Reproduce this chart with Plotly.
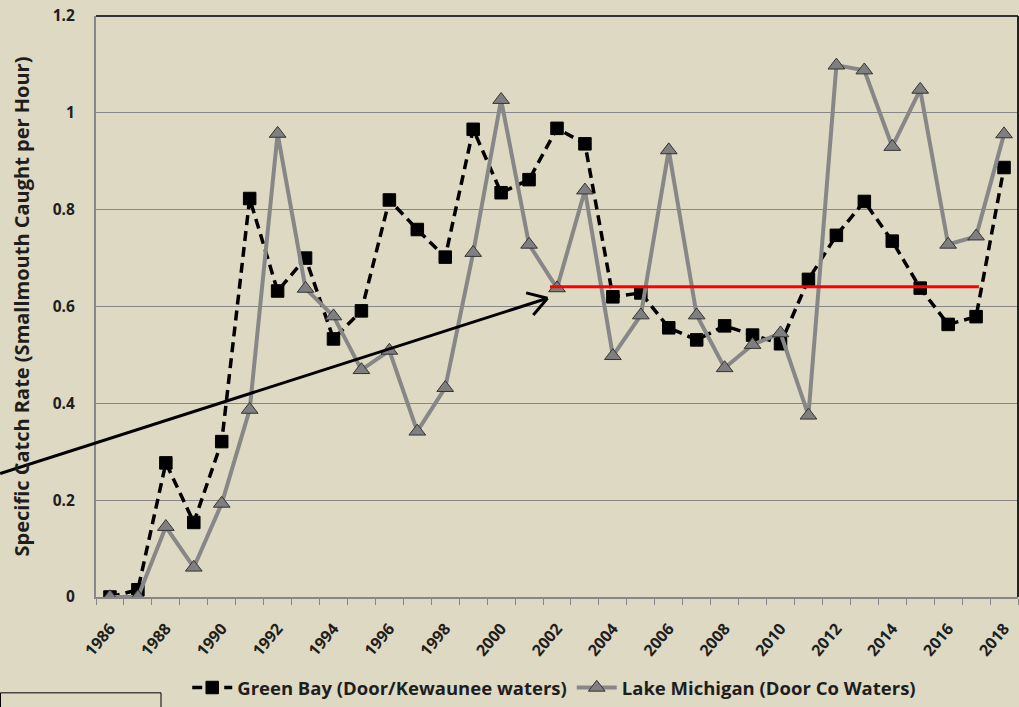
import math
import plotly.graph_objects as go

# ---------------- data ----------------
years = list(range(1986, 2019))
green_bay = [0.0, 0.015, 0.277, 0.154, 0.321, 0.823, 0.632, 0.700, 0.533, 0.591,
             0.820, 0.759, 0.702, 0.966, 0.835, 0.862, 0.968, 0.936, 0.620, 0.628,
             0.556, 0.531, 0.560, 0.541, 0.523, 0.656, 0.747, 0.817, 0.735, 0.638,
             0.563, 0.579, 0.887]
lake_michigan = [0.0, 0.0, 0.145, 0.061, 0.193, 0.387, 0.957, 0.637, 0.580, 0.469,
                 0.509, 0.342, 0.432, 0.711, 1.027, 0.728, 0.638, 0.840, 0.498, 0.582,
                 0.923, 0.582, 0.473, 0.521, 0.545, 0.375, 1.098, 1.088, 0.930, 1.048,
                 0.728, 0.745, 0.956]
label_years = list(range(1986, 2019, 2))
y_ticks = [0, 0.2, 0.4, 0.6, 0.8, 1.0, 1.2]
y_ticktext = ["0", "0.2", "0.4", "0.6", "0.8", "1", "1.2"]

series_names = ["Green Bay (Door/Kewaunee waters)", "Lake Michigan (Door Co Waters)"]
y_title = "Specific Catch Rate (Smallmouth Caught per Hour)"

# reference (red) level and arrow annotation, in data units
ref_level = 0.641
ref_start, ref_end = 2001.75, 2017.1
arrow_tail = (1982.07, 0.255)
arrow_head = (2001.66, 0.617)

# ---------------- layout constants ----------------
W, H = 1019, 707
ML, MR, MT, MB = 96, 1, 16, 109
X_RANGE = [1985.5, 2018.5]
Y_RANGE = [0, 1.2]
BG = "#DDD9C3"
GRID = "#878787"
FONT = "Open Sans"
TEXT = "#1e1e1e"

plot_w = W - ML - MR
plot_h = H - MT - MB


def to_paper(x, y):
    px = (x - X_RANGE[0]) / (X_RANGE[1] - X_RANGE[0])
    py = (y - Y_RANGE[0]) / (Y_RANGE[1] - Y_RANGE[0])
    return px, py


fig = go.Figure()
fig.add_trace(go.Scatter(
    x=years, y=green_bay, name=series_names[0], mode="lines+markers",
    line=dict(color="black", width=3.5, dash="10px,6px"),
    marker=dict(symbol="square", size=12.5, color="black",
                line=dict(color="black", width=1)),
))
fig.add_trace(go.Scatter(
    x=years, y=lake_michigan, name=series_names[1], mode="lines+markers",
    line=dict(color="#878787", width=4),
    marker=dict(symbol="triangle-up", size=14.5, color="#7f7f7f",
                line=dict(color="#333333", width=1)),
))

shapes = []
# red reference line
shapes.append(dict(type="line", xref="x", yref="y", x0=ref_start, x1=ref_end,
                   y0=ref_level, y1=ref_level, line=dict(color="#FF0000", width=3),
                   layer="above"))
# arrow (shaft + open chevron head), paper coordinates so it can leave the plot area
tx, ty = to_paper(*arrow_tail)
hx, hy = to_paper(*arrow_head)
shapes.append(dict(type="line", xref="paper", yref="paper", x0=tx, y0=ty, x1=hx, y1=hy,
                   line=dict(color="black", width=3), layer="above"))
dxp = (hx - tx) * plot_w
dyp = (hy - ty) * plot_h
ang = math.atan2(dyp, dxp)
arm = 22
for da in (math.radians(32), -math.radians(32)):
    a = ang + math.pi + da
    ex = hx + arm * math.cos(a) / plot_w
    ey = hy + arm * math.sin(a) / plot_h
    shapes.append(dict(type="line", xref="paper", yref="paper", x0=hx, y0=hy, x1=ex, y1=ey,
                       line=dict(color="black", width=3), layer="above"))
# dark top and right border of plot area
shapes.append(dict(type="line", xref="paper", yref="paper", x0=0, x1=1, y0=1, y1=1,
                   line=dict(color="#333333", width=2)))
shapes.append(dict(type="line", xref="paper", yref="paper", x0=1, x1=1, y0=0, y1=1,
                   line=dict(color="#222222", width=2)))
# small box in the lower-left corner
shapes.append(dict(type="rect", xref="paper", yref="paper",
                   x0=(0.5 - ML) / plot_w, x1=(161 - ML) / plot_w,
                   y0=(MT + plot_h - 720) / plot_h, y1=(MT + plot_h - 694) / plot_h,
                   line=dict(color="black", width=1), fillcolor="rgba(0,0,0,0)"))

fig.update_layout(
    width=W, height=H,
    margin=dict(l=ML, r=MR, t=MT, b=MB),
    paper_bgcolor=BG, plot_bgcolor=BG,
    font=dict(family=FONT, color=TEXT),
    shapes=shapes,
    showlegend=True,
    legend=dict(orientation="h", x=0.497, xanchor="center", y=-0.155, yanchor="middle",
                font=dict(family=FONT, size=18.5, weight="bold", color=TEXT),
                bgcolor="rgba(0,0,0,0)", itemwidth=40),
)
fig.update_xaxes(
    range=X_RANGE, tickmode="array", tickvals=label_years,
    ticktext=[str(y) for y in label_years], tickangle=-50,
    tickfont=dict(family=FONT, size=16, weight="bold", color=TEXT),
    ticks="", ticklabelstandoff=14, showgrid=False, zeroline=False,
    showline=True, linecolor=GRID, linewidth=2,
    minor=dict(tick0=1985.5, dtick=1, ticks="outside", ticklen=6,
               tickcolor=GRID, tickwidth=1, showgrid=False),
)
fig.update_yaxes(
    range=Y_RANGE, tickmode="array", tickvals=y_ticks, ticktext=y_ticktext,
    tickfont=dict(family=FONT, size=15.5, weight="bold", color=TEXT),
    ticks="", ticklabelstandoff=16,
    showgrid=True, gridcolor=GRID, gridwidth=1, zeroline=False,
    showline=True, linecolor=GRID, linewidth=2,
    title=dict(text=y_title, standoff=18,
               font=dict(family=FONT, size=20, weight="bold", color=TEXT)),
)

fig.write_html("out.html", config={"displayModeBar": False},
               post_script="document.body.style.margin='0px';")
